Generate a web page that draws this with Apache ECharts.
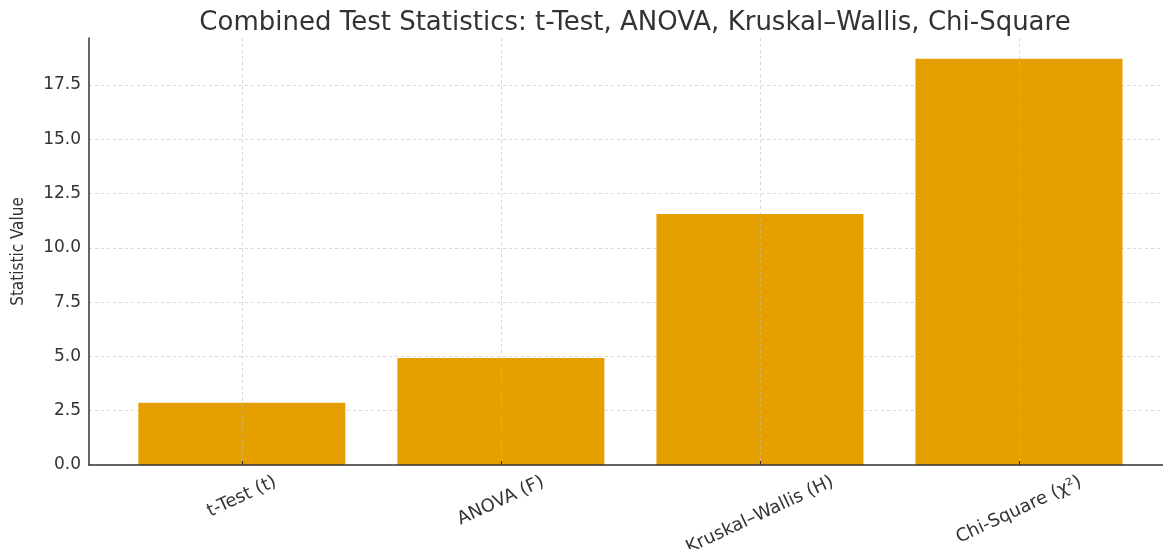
<!DOCTYPE html>
<html>
<head>
<meta charset="utf-8">
<script src="https://cdn.jsdelivr.net/npm/echarts@6/dist/echarts.min.js"></script>
<style>
  html, body { margin: 0; padding: 0; background: #fff; }
  #chart { width: 1163px; height: 549px; }
</style>
</head>
<body>
<div id="chart"></div>
<script>
// data
const testNames = ['t-Test (t)', 'ANOVA (F)', 'Kruskal–Wallis (H)', 'Chi-Square (χ²)']
const statValues = [2.87, 4.93, 11.56, 18.7]
const yTicks = [0, 2.5, 5, 7.5, 10, 12.5, 15, 17.5]

const barColor = '#e5a000'
const textColor = '#333'
const font = 'DejaVu Sans'
const labelSize = 18
const labelRotate = 25

// matplotlib puts the top of each rotated label's box just under the axis;
// echarts rotates around the label centre, so push each one down by half its box height
const measure = document.createElement('canvas').getContext('2d')
measure.font = `${labelSize}px "${font}"`
const rad = (labelRotate * Math.PI) / 180
const labelRich = {}
testNames.forEach((name, i) => {
  const w = measure.measureText(name).width
  const half = (w * Math.sin(rad) + labelSize * Math.cos(rad)) / 2
  labelRich['l' + i] = {
    color: textColor,
    fontFamily: font,
    fontSize: labelSize,
    padding: [2 * half * Math.cos(rad), 2 * half * Math.sin(rad), 0, 0]
  }
})

const chart = echarts.init(document.getElementById('chart'))

chart.setOption({
  backgroundColor: '#fff',
  animation: false,
  title: {
    text: 'Combined Test Statistics: t-Test, ANOVA, Kruskal–Wallis, Chi-Square',
    left: 630,
    textAlign: 'center',
    top: 5,
    textStyle: { color: textColor, fontFamily: font, fontWeight: 'normal', fontSize: 26 }
  },
  grid: { left: 89, right: 0, top: 38, bottom: 84, outerBoundsMode: 'none' },
  xAxis: {
    type: 'value',
    min: -0.59,
    max: 3.556,
    z: 3,
    axisLine: { show: true, lineStyle: { color: '#333', width: 1.5 } },
    axisTick: { show: true, inside: true, length: 4, customValues: [0, 1, 2, 3], lineStyle: { color: '#333' } },
    axisLabel: {
      customValues: [0, 1, 2, 3],
      formatter: (v) => {
        const i = Math.round(v)
        return `{l${i}|${testNames[i]}}`
      },
      rich: labelRich,
      rotate: labelRotate,
      align: 'center',
      verticalAlign: 'middle',
      margin: 8,
      color: textColor,
      fontFamily: font,
      fontSize: labelSize
    },
    splitLine: { show: true, lineStyle: { color: 'rgba(190,190,190,0.6)', type: [3, 3], width: 1 } }
  },
  yAxis: {
    type: 'value',
    min: 0,
    max: 19.66,
    interval: 2.5,
    name: 'Statistic Value',
    nameLocation: 'middle',
    nameRotate: 90,
    nameGap: 62,
    nameTextStyle: { color: textColor, fontFamily: 'DejaVu Sans Condensed', fontSize: 17 },
    axisLine: { show: true, onZero: false, lineStyle: { color: '#333', width: 1.5 } },
    axisTick: { show: false },
    axisLabel: {
      showMaxLabel: false,
      formatter: (v) => (yTicks.includes(v) ? v.toFixed(1) : ''),
      color: textColor,
      fontFamily: font,
      fontSize: 17,
      margin: 8
    },
    splitLine: { show: true, showMaxLine: false, lineStyle: { color: '#d8d8d8', type: [3, 3], width: 1 } }
  },
  series: [
    {
      type: 'bar',
      data: statValues.map((v, i) => [i, v]),
      barWidth: 207,
      itemStyle: { color: barColor }
    }
  ]
})
</script>
</body>
</html>
